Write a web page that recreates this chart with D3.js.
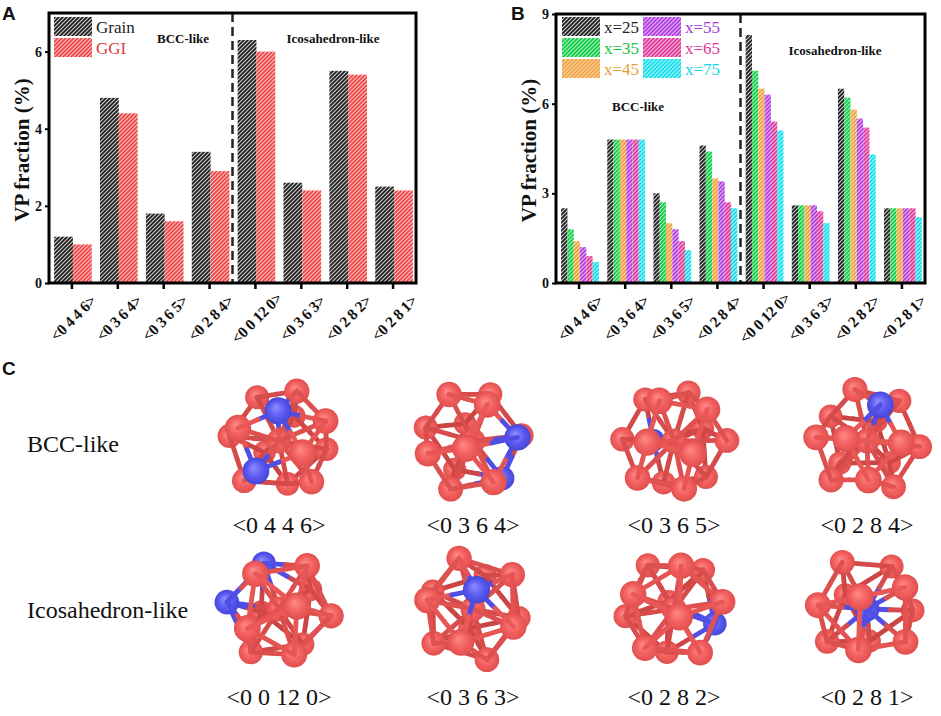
<!DOCTYPE html>
<html>
<head>
<meta charset="utf-8">
<script src="https://cdn.jsdelivr.net/npm/d3@7/dist/d3.min.js"></script>
<style>
  body { margin: 0; background: #fff; }
  svg { display: block; }
</style>
</head>
<body>
<div id="viz"></div>
<script>
// Voronoi index categories
const categories = ["<0 4 4 6>", "<0 3 6 4>", "<0 3 6 5>", "<0 2 8 4>",
                    "<0 0 12 0>", "<0 3 6 3>", "<0 2 8 2>", "<0 2 8 1>"];

// panel A
const grain = [1.2, 4.8, 1.8, 3.4, 6.3, 2.6, 5.5, 2.5];
const ggi   = [1.0, 4.4, 1.6, 2.9, 6.0, 2.4, 5.4, 2.4];
const ticksA = [0, 2, 4, 6];

// panel B
const x25 = [2.5, 4.8, 3.0, 4.6, 8.3, 2.6, 6.5, 2.5];
const x35 = [1.8, 4.8, 2.7, 4.4, 7.1, 2.6, 6.2, 2.5];
const x45 = [1.4, 4.8, 2.0, 3.5, 6.5, 2.6, 5.8, 2.5];
const x55 = [1.2, 4.8, 1.8, 3.4, 6.3, 2.6, 5.5, 2.5];
const x65 = [0.9, 4.8, 1.4, 2.7, 5.4, 2.4, 5.2, 2.5];
const x75 = [0.7, 4.8, 1.1, 2.5, 5.1, 2.0, 4.3, 2.2];
const ticksB = [0, 3, 6, 9];

// panel C
const bccLabels = ["<0 4 4 6>", "<0 3 6 4>", "<0 3 6 5>", "<0 2 8 4>"];
const icoLabels = ["<0 0 12 0>", "<0 3 6 3>", "<0 2 8 2>", "<0 2 8 1>"];
// which atoms are drawn blue (-1 = centre atom)
const blueAtoms = [[1, 9], [3, 11], [5], [0], [2, 6], [4], [7], [-1]];

const serif = "'Liberation Serif', 'Times New Roman', serif";
const sans = "'Liberation Sans', Arial, sans-serif";

const W = 941, H = 716;
const svg = d3.select("#viz")
  .append("svg")
  .attr("width", W)
  .attr("height", H)
  .attr("viewBox", `0 0 ${W} ${H}`);
const defs = svg.append("defs");

// hatched fills, like Origin's "/" pattern
const hatch = function (id, bg, line) {
  const p = defs.append("pattern")
    .attr("id", id)
    .attr("patternUnits", "userSpaceOnUse")
    .attr("width", 4).attr("height", 4);
  p.append("rect").attr("width", 4).attr("height", 4).attr("fill", bg);
  p.append("path")
    .attr("d", "M-1,1 L1,-1 M0,4 L4,0 M3,5 L5,3")
    .attr("stroke", line)
    .attr("stroke-width", 1.7);
};
hatch("hGrain", "#cfcfcf", "#1c1c1c");
hatch("hGGI", "#ffc4c4", "#ec4444");
hatch("h25", "#cfcfcf", "#1c1c1c");
hatch("h35", "#a6f3bd", "#12cc46");
hatch("h45", "#fcd8a6", "#efa243");
hatch("h55", "#e3b4f6", "#b03de0");
hatch("h65", "#f7b3da", "#e0389a");
hatch("h75", "#a6f7fa", "#12dde8");

const seriesA = [
  { name: "Grain", values: grain, fill: "hGrain", text: "#222" },
  { name: "GGI", values: ggi, fill: "hGGI", text: "#e03838" }
];
const seriesB = [
  { name: "x=25", values: x25, fill: "h25", text: "#222" },
  { name: "x=35", values: x35, fill: "h35", text: "#10c840" },
  { name: "x=45", values: x45, fill: "h45", text: "#eb9c3c" },
  { name: "x=55", values: x55, fill: "h55", text: "#a83ad8" },
  { name: "x=65", values: x65, fill: "h65", text: "#dc3896" },
  { name: "x=75", values: x75, fill: "h75", text: "#10d8e4" }
];

const barPanel = function (box, maxY, ticks, series) {
  const g = svg.append("g");
  const x = d3.scaleBand().domain(categories).range([box.left, box.right]);
  const y = d3.scaleLinear().domain([0, maxY]).range([box.bottom, box.top]);
  const groupW = x.bandwidth() * 0.82;
  const inner = d3.scaleBand().domain(d3.range(series.length)).range([0, groupW]);

  series.forEach((s, si) => {
    g.selectAll(null)
      .data(s.values)
      .enter()
      .append("rect")
      .attr("x", (d, i) => x(categories[i]) + (x.bandwidth() - groupW) / 2 + 1 + inner(si))
      .attr("y", d => y(d))
      .attr("width", inner.bandwidth())
      .attr("height", d => y(0) - y(d))
      .attr("fill", `url(#${s.fill})`);
  });

  // divider between BCC-like and icosahedron-like
  const xd = x(categories[4]);
  g.append("line")
    .attr("x1", xd).attr("x2", xd)
    .attr("y1", box.top).attr("y2", box.bottom)
    .attr("stroke", "#222")
    .attr("stroke-width", 2.5)
    .attr("stroke-dasharray", "9,5");

  const ya = g.append("g")
    .attr("transform", `translate(${box.left},0)`)
    .call(d3.axisLeft(y).tickValues(ticks).tickSize(4).tickPadding(3).tickFormat(d3.format("d")));
  ya.select(".domain").remove();
  ya.selectAll("line").attr("stroke", "#000").attr("stroke-width", 2);
  ya.selectAll("text")
    .attr("font-family", serif).attr("font-weight", "bold")
    .attr("font-size", 14).attr("fill", "#111");

  const xa = g.append("g")
    .attr("transform", `translate(0,${box.bottom})`)
    .call(d3.axisBottom(x).tickSize(6).tickFormat(""));
  xa.select(".domain").remove();
  xa.selectAll("line").attr("stroke", "#000").attr("stroke-width", 2.5);
  xa.selectAll(".tick").append("text")
    .attr("transform", "translate(1,35) rotate(-45)")
    .attr("text-anchor", "middle")
    .attr("dominant-baseline", "central")
    .attr("font-family", serif)
    .attr("font-weight", "bold")
    .attr("font-size", 15.5)
    .attr("letter-spacing", -0.4)
    .attr("fill", "#111")
    .text(d => d);

  g.append("rect")
    .attr("x", box.left).attr("y", box.top)
    .attr("width", box.right - box.left)
    .attr("height", box.bottom - box.top)
    .attr("fill", "none")
    .attr("stroke", "#000")
    .attr("stroke-width", 3);

  g.append("text")
    .attr("transform", `translate(${box.ylab},${(box.top + box.bottom) / 2 + 2}) rotate(-90)`)
    .attr("text-anchor", "middle")
    .attr("dominant-baseline", "central")
    .attr("font-family", serif)
    .attr("font-weight", "bold")
    .attr("font-size", 21)
    .attr("fill", "#111")
    .text("VP fraction (%)");

  return g;
};

const note = function (g, x, y, txt) {
  g.append("text")
    .attr("x", x).attr("y", y)
    .attr("text-anchor", "middle")
    .attr("font-family", serif)
    .attr("font-weight", "bold")
    .attr("font-size", 13)
    .attr("fill", "#111")
    .text(txt);
};

const legend = function (g, items, x0, y0, colW, rows) {
  items.forEach((s, i) => {
    const col = Math.floor(i / rows), row = i % rows;
    const lx = x0 + col * colW, ly = y0 + row * 21;
    g.append("rect")
      .attr("x", lx).attr("y", ly)
      .attr("width", 38).attr("height", 19)
      .attr("fill", `url(#${s.fill})`);
    g.append("text")
      .attr("x", lx + 42).attr("y", ly + 10)
      .attr("dominant-baseline", "central")
      .attr("font-family", serif)
      .attr("font-size", 17)
      .attr("fill", s.text)
      .text(s.name);
  });
};

// ---- panel A
const gA = barPanel({ left: 49, right: 416, top: 13, bottom: 283, ylab: 22 }, 7, ticksA, seriesA);
legend(gA, seriesA, 54, 17, 0, 2);
note(gA, 183, 43, "BCC-like");
note(gA, 333, 43, "Icosahedron-like");

// ---- panel B
const gB = barPanel({ left: 556, right: 925, top: 14, bottom: 283, ylab: 529 }, 9, ticksB, seriesB);
legend(gB, seriesB, 562, 17, 81, 3);
note(gB, 638, 111, "BCC-like");
note(gB, 835, 55, "Icosahedron-like");

// panel letters
[["A", 2, 20], ["B", 511, 20], ["C", 2, 375]].forEach(([t, x, y]) => {
  svg.append("text")
    .attr("x", x).attr("y", y)
    .attr("font-family", sans)
    .attr("font-weight", "bold")
    .attr("font-size", 19)
    .attr("fill", "#111")
    .text(t);
});

// ---- panel C : clusters
const grad = function (id, c0, c1, c2) {
  const r = defs.append("radialGradient")
    .attr("id", id)
    .attr("cx", "50%").attr("cy", "50%").attr("r", "50%")
    .attr("fx", "40%").attr("fy", "36%");
  r.append("stop").attr("offset", "0%").attr("stop-color", c0);
  r.append("stop").attr("offset", "60%").attr("stop-color", c1);
  r.append("stop").attr("offset", "100%").attr("stop-color", c2);
};
grad("gRed", "#ff8a8a", "#f25f5f", "#e04f4f");
grad("gBlue", "#8f8fff", "#5a5af2", "#4646d6");

const icosa = function () {
  const p = (1 + Math.sqrt(5)) / 2;
  const v = [];
  [-1, 1].forEach(a => [-1, 1].forEach(b => {
    v.push([0, a, b * p], [a, b * p, 0], [b * p, 0, a]);
  }));
  return v.map(q => {
    const l = Math.hypot(q[0], q[1], q[2]);
    return q.map(c => c / l);
  });
};
const fibo = function (n) {
  const ga = Math.PI * (3 - Math.sqrt(5));
  return d3.range(n).map(i => {
    const yy = 1 - 2 * (i + 0.5) / n;
    const r = Math.sqrt(1 - yy * yy);
    return [r * Math.cos(i * ga), yy, r * Math.sin(i * ga)];
  });
};
const rotate = function (q, a) {
  let [x, y, z] = q;
  let t;
  t = y * Math.cos(a[0]) - z * Math.sin(a[0]); z = y * Math.sin(a[0]) + z * Math.cos(a[0]); y = t;
  t = x * Math.cos(a[1]) + z * Math.sin(a[1]); z = -x * Math.sin(a[1]) + z * Math.cos(a[1]); x = t;
  t = x * Math.cos(a[2]) - y * Math.sin(a[2]); y = x * Math.sin(a[2]) + y * Math.cos(a[2]); x = t;
  return [x, y, z];
};

const views = [[0.4, 0.7, 0.2], [1.1, 0.3, 0.6], [0.2, 1.3, 0.9], [0.9, 0.1, 0.3],
               [0.55, 0.35, 0.15], [1.2, 0.8, 0.4], [0.3, 0.95, 1.1], [0.7, 1.5, 0.2]];
const bondShade = d3.interpolateRgb("#c74242", "#f05c5a");

const drawCluster = function (cx, cy, label, k) {
  const n = label.replace(/[<>]/g, "").trim().split(/\s+/).map(Number).reduce((a, b) => a + b, 0);
  const shell = (n === 12 ? icosa() : fibo(n)).map(q => rotate(q, views[k]));
  const blue = blueAtoms[k];
  const atoms = [{ p: [0, 0, 0], blue: blue.includes(-1) }]
    .concat(shell.map((q, i) => ({ p: q, blue: blue.includes(i) })));

  let dmin = Infinity;
  shell.forEach((a, i) => shell.forEach((b, j) => {
    if (j > i) dmin = Math.min(dmin, Math.hypot(a[0] - b[0], a[1] - b[1], a[2] - b[2]));
  }));
  const bonds = [];
  atoms.forEach((a, i) => {
    if (i > 0) bonds.push([0, i]);
  });
  for (let i = 1; i < atoms.length; i++) {
    for (let j = i + 1; j < atoms.length; j++) {
      const a = atoms[i].p, b = atoms[j].p;
      if (Math.hypot(a[0] - b[0], a[1] - b[1], a[2] - b[2]) < dmin * 1.32) bonds.push([i, j]);
    }
  }

  const R = 53, r0 = 12.5;
  const sx = q => cx + R * q[0];
  const sy = q => cy - R * q[1];

  const items = [];
  bonds.forEach(([i, j]) => {
    const a = atoms[i], b = atoms[j];
    items.push({ kind: "bond", a, b, z: (a.p[2] + b.p[2]) / 2 - 0.1 });
  });
  atoms.forEach(a => items.push({ kind: "atom", a, z: a.p[2] }));
  items.sort((u, v) => u.z - v.z);

  const g = svg.append("g");
  items.forEach(it => {
    if (it.kind === "bond") {
      const a = it.a.p, b = it.b.p;
      const m = [(a[0] + b[0]) / 2, (a[1] + b[1]) / 2];
      const shade = bondShade((it.z + 1) / 2);
      [[a, it.a.blue], [b, it.b.blue]].forEach(([e, isBlue]) => {
        g.append("line")
          .attr("x1", sx(e)).attr("y1", sy(e))
          .attr("x2", sx(m)).attr("y2", sy(m))
          .attr("stroke", isBlue ? "#4f4fe6" : shade)
          .attr("stroke-width", 4.8)
          .attr("stroke-linecap", "round");
      });
    } else {
      g.append("circle")
        .attr("cx", sx(it.a.p)).attr("cy", sy(it.a.p))
        .attr("r", r0 * (1 + 0.1 * it.a.p[2]))
        .attr("fill", it.a.blue ? "url(#gBlue)" : "url(#gRed)");
    }
  });
};

const colX = [279, 473, 674, 867];
const rowC = [
  { labels: bccLabels, cy: 441, ly: 533, name: "BCC-like", ny: 452 },
  { labels: icoLabels, cy: 609, ly: 705, name: "Icosahedron-like", ny: 618 }
];
rowC.forEach((row, ri) => {
  svg.append("text")
    .attr("x", 27).attr("y", row.ny)
    .attr("font-family", serif)
    .attr("font-size", 24)
    .attr("fill", "#111")
    .text(row.name);
  row.labels.forEach((lab, ci) => {
    drawCluster(colX[ci], row.cy, lab, ri * 4 + ci);
    svg.append("text")
      .attr("x", colX[ci]).attr("y", row.ly)
      .attr("text-anchor", "middle")
      .attr("font-family", serif)
      .attr("font-size", 24)
      .attr("fill", "#111")
      .text(lab);
  });
});
</script>
</body>
</html>
